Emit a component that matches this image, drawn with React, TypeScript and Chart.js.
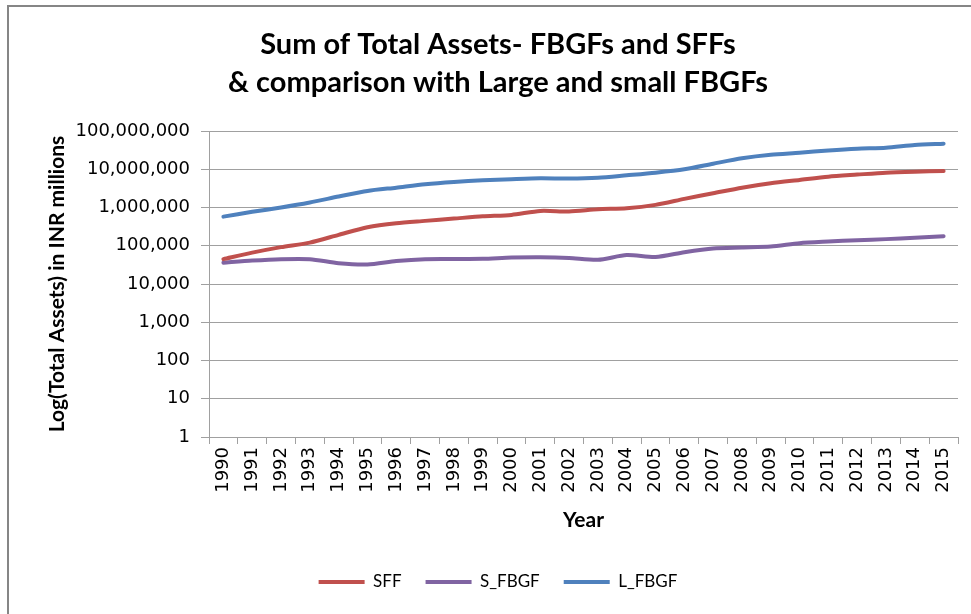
import React, { useEffect, useRef } from "react";
import { Chart, registerables } from "chart.js";

Chart.register(...registerables);

const years = [
  "1990", "1991", "1992", "1993", "1994", "1995", "1996", "1997", "1998", "1999",
  "2000", "2001", "2002", "2003", "2004", "2005", "2006", "2007", "2008", "2009",
  "2010", "2011", "2012", "2013", "2014", "2015",
];

const sff = [
  44700, 66000, 92000, 121000, 193000, 305000, 389000, 447000, 513000, 590000,
  641000, 814000, 790000, 902000, 955000, 1170000, 1680000, 2350000, 3300000, 4300000,
  5250000, 6400000, 7240000, 8150000, 8650000, 9000000,
];

const sFbgf = [
  36000, 41000, 44600, 44600, 35000, 32400, 39800, 44600, 45000, 45500,
  49000, 50000, 48000, 42900, 57000, 51000, 68000, 85000, 90000, 95000,
  117000, 129000, 140000, 149000, 161000, 178000,
];

const lFbgf = [
  578000, 770000, 1000000, 1350000, 1930000, 2710000, 3300000, 4050000, 4660000, 5150000,
  5500000, 5800000, 5700000, 6000000, 6970000, 8150000, 10000000, 14000000, 19400000, 24000000,
  27000000, 31000000, 34500000, 36600000, 43000000, 46700000,
];

const yTicks = [1, 10, 100, 1000, 10000, 100000, 1000000, 10000000, 100000000];

const titleLines = ["Sum of Total Assets- FBGFs and SFFs", "& comparison with Large and small FBGFs"];
const yTitle = "Log(Total Assets) in INR millions";
const xTitle = "Year";

export default function App() {
  const ref = useRef<HTMLCanvasElement | null>(null);

  useEffect(() => {
    if (!ref.current) return;
    const grid = "#a0a0a0";
    const mk = (label: string, data: number[], color: string) => ({
      label,
      data,
      borderColor: color,
      backgroundColor: color,
      borderWidth: 4,
      pointRadius: 0,
      pointStyle: "line" as const,
      tension: 0.25,
      borderCapStyle: "round" as const,
      borderJoinStyle: "round" as const,
    });
    const chart = new Chart(ref.current, {
      type: "line",
      data: {
        labels: years,
        datasets: [
          mk("SFF", sff, "#C0504D"),
          mk("S_FBGF", sFbgf, "#8064A2"),
          mk("L_FBGF", lFbgf, "#4F81BD"),
        ],
      },
      options: {
        responsive: false,
        animation: false,
        layout: { padding: { top: 0, left: 38, right: 13, bottom: 13.5 } },
        plugins: {
          title: {
            display: true,
            text: titleLines,
            color: "#000",
            font: { family: "Lato", weight: "bold", size: 29, lineHeight: 38 / 29 },
            padding: { top: 26, bottom: 29 },
          },
          legend: {
            position: "bottom",
            labels: {
              usePointStyle: true,
              pointStyleWidth: 46,
              padding: 24,
              color: "#000",
              font: { family: "Lato", size: 17 },
            },
          },
          tooltip: { enabled: false },
        },
        scales: {
          x: {
            type: "category",
            offset: true,
            grid: { offset: true, drawOnChartArea: false, tickLength: 7, color: grid },
            border: { color: grid },
            ticks: {
              autoSkip: false,
              minRotation: 90,
              maxRotation: 90,
              padding: 3,
              color: "#000",
              font: { family: "DejaVu Sans", size: 18 },
            },
            title: {
              display: true,
              text: xTitle,
              color: "#000",
              font: { family: "Lato", weight: "bold", size: 21 },
              padding: { top: 0, bottom: 16.9 },
            },
            afterFit: (s: any) => {
              s.height = 112.5;
            },
          },
          y: {
            type: "logarithmic",
            min: 1,
            max: 100000000,
            grid: { color: grid, tickLength: 8 },
            border: { color: grid },
            afterBuildTicks: (s: any) => {
              s.ticks = yTicks.map((v) => ({ value: v }));
            },
            ticks: {
              padding: 11,
              color: "#000",
              font: { family: "DejaVu Sans", size: 18 },
              callback: (v: any) => Number(v).toLocaleString("en-US"),
            },
            title: {
              display: true,
              text: yTitle,
              color: "#000",
              font: { family: "Lato", weight: "bold", size: 21 },
              padding: { top: 6.4, bottom: 0 },
            },
            afterFit: (s: any) => {
              s.width = 171;
            },
          },
        },
      },
    });
    return () => chart.destroy();
  }, []);

  return (
    <div style={{ position: "fixed", left: 0, top: 0, width: 971, height: 614, background: "#fff", overflow: "hidden" }}>
      <div
        style={{
          position: "absolute",
          left: 7,
          top: 5,
          width: 1000,
          height: 700,
          border: "2px solid #868686",
          boxSizing: "border-box",
        }}
      />
      <canvas ref={ref} width={971} height={614} style={{ position: "absolute", left: 0, top: 0 }} />
    </div>
  );
}
